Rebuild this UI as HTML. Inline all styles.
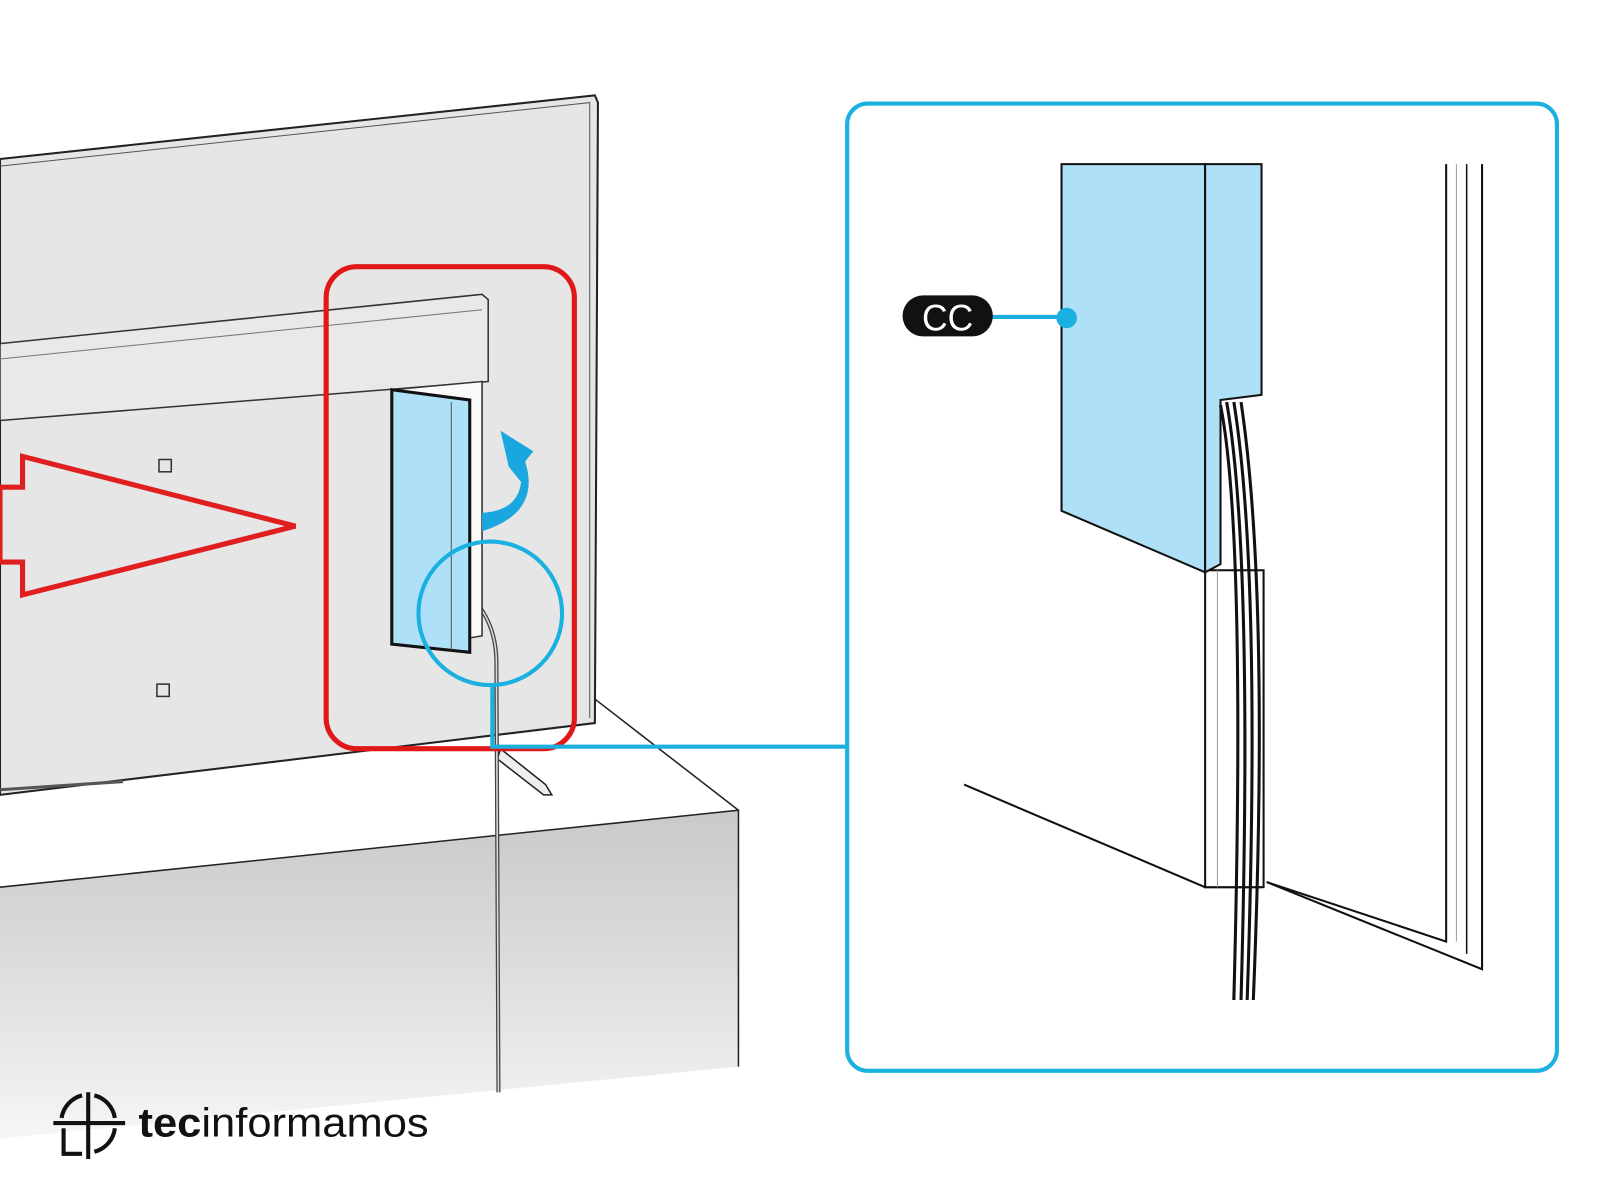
<!DOCTYPE html>
<html><head><meta charset="utf-8"><style>
html,body{margin:0;padding:0;background:#fff;}
svg{display:block}
</style></head><body>
<svg width="1600" height="1200" viewBox="0 0 1560 1170" xmlns="http://www.w3.org/2000/svg">
<defs>
<linearGradient id="tb" x1="0" y1="0" x2="0" y2="1">
<stop offset="0" stop-color="#c9c9c9"/><stop offset="0.6" stop-color="#e2e2e2"/><stop offset="1" stop-color="#f6f6f6"/>
</linearGradient>
</defs>
<rect width="1560" height="1170" fill="#fff"/>
<!-- table -->
<polygon points="0,865 720,790 720,1040 0,1110" fill="url(#tb)"/>
<polyline points="0,865 720,790 720,1040" fill="none" stroke="#222" stroke-width="1.5"/>
<line x1="578" y1="680" x2="720" y2="790" stroke="#222" stroke-width="1.5"/>
<!-- stand foot -->
<path d="M488,730 L532,765 L538,775 L530,775 L485,740 Z" fill="#eee" stroke="#222" stroke-width="1.5"/>
<!-- TV back -->
<polygon points="0,155 580,93 583,100 580,705 0,775" fill="#e6e6e6" stroke="#222" stroke-width="2"/>
<polyline points="0,162 575,100 575,700" fill="none" stroke="#555" stroke-width="1"/>
<polygon points="0,335 470,287 476,292 476,372 0,410" fill="#e9e9e9" stroke="#333" stroke-width="1.5"/>
<line x1="0" y1="350" x2="470" y2="302" stroke="#777" stroke-width="1"/>
<line x1="0" y1="770" x2="120" y2="762" stroke="#555" stroke-width="3"/>
<rect x="155" y="448" width="12" height="12" fill="none" stroke="#333" stroke-width="1.5"/>
<rect x="153" y="667" width="12" height="12" fill="none" stroke="#333" stroke-width="1.5"/>
<!-- cable -->
<path d="M462,585 Q485,610 484,650 L486,1065" fill="none" stroke="#444" stroke-width="4"/>
<path d="M462,585 Q485,610 484,650 L486,1065" fill="none" stroke="#ddd" stroke-width="1.5"/>
<!-- opening & cover -->
<polygon points="382,380 470,372 470,620 440,625 440,612 458,612" fill="#fafafa" stroke="#333" stroke-width="1.5"/>
<polygon points="382,380 458,390 458,636 382,628" fill="#aee0f7" stroke="#111" stroke-width="3"/>
<line x1="440" y1="392" x2="440" y2="634" stroke="#555" stroke-width="1"/>
<!-- blue curved arrow -->
<path d="M470,518 L470,500 Q505,498 508,470 L496,455 L488,420 L520,440 L512,450 Q528,500 470,518 Z" fill="#1aa7e0"/>
<!-- red arrow -->
<polygon points="0,475 22,475 22,445 288,513 22,580 22,548 0,548" fill="none" stroke="#e02020" stroke-width="5"/>
<!-- red box -->
<rect x="318" y="260" width="242" height="470" rx="30" fill="none" stroke="#e01818" stroke-width="5"/>
<!-- cyan callout -->
<circle cx="478" cy="598" r="70" fill="none" stroke="#1ab0e0" stroke-width="4"/>
<polyline points="480,668 480,728 826,728" fill="none" stroke="#1ab0e0" stroke-width="4"/>
<!-- detail frame -->
<rect x="826" y="101" width="692" height="943" rx="20" fill="#fff" stroke="#1ab0e0" stroke-width="4"/>
<polyline points="940,765 1175,865 1230,865" fill="none" stroke="#111" stroke-width="2"/>
<rect x="1175" y="556" width="57" height="309" fill="#fff" stroke="#111" stroke-width="2"/>
<line x1="1187" y1="556" x2="1187" y2="865" stroke="#999" stroke-width="1"/>
<polygon points="1035,160 1175,160 1175,558 1035,498" fill="#aee0f7" stroke="#111" stroke-width="2"/>
<polygon points="1175,160 1230,160 1230,385 1190,390 1190,550 1175,558" fill="#aee0f7" stroke="#111" stroke-width="2"/>
<!-- right TV edge -->
<polyline points="1410,160 1410,918 1235,860" fill="none" stroke="#111" stroke-width="2"/>
<polyline points="1420,160 1420,918" fill="none" stroke="#999" stroke-width="1"/>
<polyline points="1430,160 1430,930" fill="none" stroke="#111" stroke-width="1.5"/>
<polyline points="1445,160 1445,945 1235,860" fill="none" stroke="#111" stroke-width="2"/>
<!-- cables -->
<g fill="none" stroke="#111" stroke-width="3">
<path d="M1190,395 Q1215,520 1203,975"/>
<path d="M1196,392 Q1222,540 1210,975"/>
<path d="M1203,392 Q1230,560 1216,975"/>
<path d="M1210,392 Q1238,580 1222,975"/>
</g>
<!-- CC label -->
<line x1="965" y1="309" x2="1040" y2="309" stroke="#1ab0e0" stroke-width="4"/>
<circle cx="1040" cy="310" r="10" fill="#1ab0e0"/>
<rect x="880" y="288" width="88" height="40" rx="20" fill="#111"/>
<text x="924" y="322" font-family="Liberation Sans, sans-serif" font-size="36" fill="#fff" text-anchor="middle" textLength="50" lengthAdjust="spacingAndGlyphs">CC</text>
<!-- logo -->
<g stroke="#111" stroke-width="4" fill="none">
<line x1="52" y1="1095" x2="122" y2="1095"/>
<line x1="86" y1="1065" x2="86" y2="1130"/>
<path d="M60,1090 A27,27 0 0 1 80,1068"/>
<path d="M92,1068 A27,27 0 0 1 112,1090"/>
<path d="M62,1100 L62,1125 L80,1125"/>
<path d="M92,1123 A27,27 0 0 0 112,1100"/>
</g>
<text x="135" y="1108" font-family="Liberation Sans, sans-serif" font-size="40" fill="#111" textLength="283" lengthAdjust="spacingAndGlyphs"><tspan font-weight="bold">tec</tspan>informamos</text>
</svg>
</body></html>
